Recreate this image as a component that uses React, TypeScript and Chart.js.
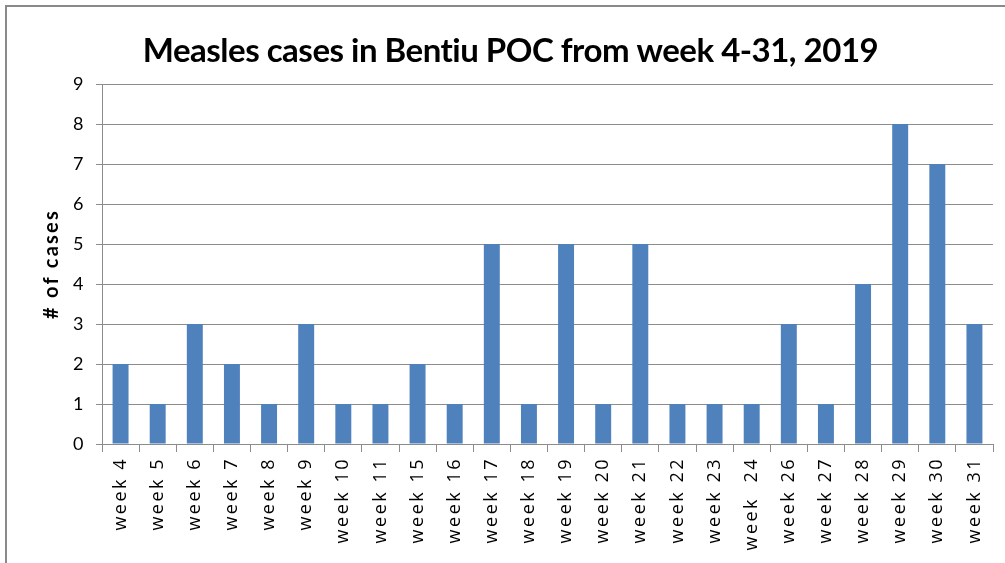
import React, { useEffect, useRef } from "react";
import { Chart, registerables } from "chart.js";

Chart.register(...registerables);

const titleText = "Measles cases in Bentiu POC from week 4-31, 2019";
const yAxisTitle = "# of cases";
const weeks = [
  "week 4", "week 5", "week 6", "week 7", "week 8", "week 9", "week 10", "week 11",
  "week 15", "week 16", "week 17", "week 18", "week 19", "week 20", "week 21", "week 22",
  "week 23", "week  24", "week 26", "week 27", "week 28", "week 29", "week 30", "week 31",
];
const cases = [2, 1, 3, 2, 1, 3, 1, 1, 2, 1, 5, 1, 5, 1, 5, 1, 1, 1, 3, 1, 4, 8, 7, 3];
const yMin = 0;
const yMax = 9;
const yStep = 1;

export default function App() {
  const ref = useRef<HTMLCanvasElement>(null);

  useEffect(() => {
    if (!ref.current) return;
    const spacingPlugin = {
      id: "xLabelSpacing",
      beforeDraw(chart: any) {
        chart.ctx.letterSpacing = "-0.5px";
      },
      afterDatasetsDraw(chart: any) {
        chart.ctx.letterSpacing = "2.5px";
      },
      afterDraw(chart: any) {
        chart.ctx.letterSpacing = "0px";
      },
    };
    const grey = "#8c8c8c";
    const chart = new Chart(ref.current, {
      type: "bar",
      data: {
        labels: weeks,
        datasets: [
          {
            data: cases,
            backgroundColor: "#4F81BD",
            borderWidth: 0,
            barPercentage: 0.43,
            categoryPercentage: 1,
          },
        ],
      },
      options: {
        animation: false,
        responsive: false,
        devicePixelRatio: 1,
        layout: { padding: { left: 28, right: 12, top: 0, bottom: 0 } },
        plugins: {
          legend: { display: false },
          tooltip: { enabled: false },
          title: {
            display: true,
            text: titleText,
            color: "#000",
            font: { family: "Lato", size: 33, weight: "bold", lineHeight: 1.2 },
            padding: { top: 32, bottom: 12.4 },
          },
        },
        scales: {
          x: {
            ticks: {
              z: 1,
              minRotation: 90,
              maxRotation: 90,
              autoSkip: false,
              padding: 5,
              color: "#000",
              font: { family: "Open Sans", size: 18 },
            },
            grid: { drawOnChartArea: false, drawTicks: true, tickLength: 8, color: grey, offset: true },
            border: { color: grey },
            afterFit(scale: any) {
              scale.height = 119;
            },
          },
          y: {
            min: yMin,
            max: yMax,
            ticks: {
              stepSize: yStep,
              padding: 13,
              color: "#000",
              font: { family: "Lato", size: 18 },
            },
            grid: { color: grey, tickLength: 6 },
            border: { color: grey },
            title: {
              display: true,
              text: yAxisTitle,
              color: "#000",
              font: { family: "Lato", size: 20, weight: "bold", lineHeight: 1.2 },
              padding: { top: 12, bottom: 0 },
            },
            afterFit(scale: any) {
              scale.width = 74;
              if (!scale._spacedTitle) {
                const orig = scale.drawTitle;
                scale.drawTitle = function (this: any) {
                  const c = this.ctx;
                  const prev = c.letterSpacing;
                  c.letterSpacing = "2.2px";
                  orig.call(this);
                  c.letterSpacing = prev;
                };
                scale._spacedTitle = true;
              }
            },
          },
        },
      },
      plugins: [spacingPlugin],
    } as any);
    return () => chart.destroy();
  }, []);

  return (
    <div style={{ position: "fixed", left: 0, top: 0, width: 1005, height: 563, background: "#fff", overflow: "hidden" }}>
      <canvas ref={ref} width={1005} height={563} style={{ position: "absolute", left: 0, top: 0, width: 1005, height: 563 }} />
      <div
        style={{
          position: "absolute",
          left: 5,
          top: 5,
          width: 1020,
          height: 580,
          borderTop: "2px solid #8a8a8a",
          borderLeft: "2px solid #8a8a8a",
          pointerEvents: "none",
        }}
      />
    </div>
  );
}
